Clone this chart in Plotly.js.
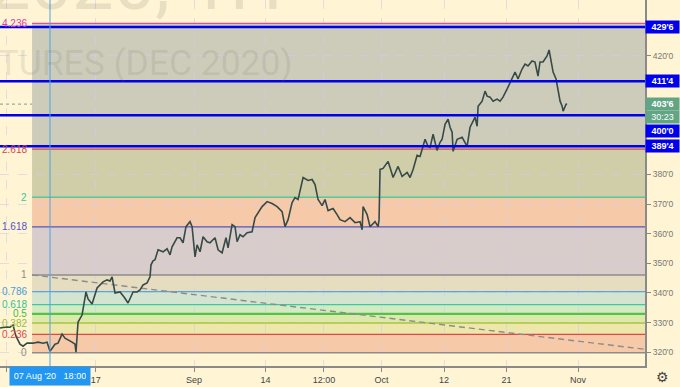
<!DOCTYPE html>
<html><head><meta charset="utf-8">
<script src="https://cdn.plot.ly/plotly-3.0.1.min.js"></script>
<style>html,body{margin:0;padding:0;background:#fff4d4;} #chart{width:680px;height:387px;}</style>
</head><body><div id="chart"></div>
<script>
// ---- data (trading-day index from Mon 03 Aug 2020, price in cents) ----
const priceDay = [-0.73,-0.17,0.39,0.73,1.06,1.51,1.85,2.30,2.97,3.53,
4.09,4.54,4.87,5.43,5.77,6.22,6.55,6.78,7.34,7.67,
7.78,8.01,8.46,8.90,9.13,9.58,10.14,10.81,11.26,11.59,
11.82,12.15,12.71,13.16,13.61,14.17,14.62,14.95,15.29,15.74,
16.07,16.18,16.41,16.63,16.97,17.53,17.98,18.31,18.54,19.10,
19.43,19.77,20.10,20.55,20.78,21.11,21.34,21.67,22.01,22.46,
22.79,23.35,23.69,24.14,24.58,24.81,25.26,25.59,25.82,26.15,
26.49,26.94,27.50,27.83,28.17,28.62,29.18,29.74,30.30,30.86,
31.19,31.53,31.98,32.31,32.65,32.87,33.21,33.77,34.22,34.55,
34.89,35.34,35.67,36.01,36.57,37.02,37.35,37.91,38.47,39.03,
39.59,39.82,39.93,40.38,40.71,41.27,41.61,41.72,41.83,42.17,
42.73,42.95,43.29,43.85,44.30,44.86,45.19,45.53,45.98,46.31,
46.65,46.87,47.21,47.43,47.77,48.21,48.55,48.78,49.11,49.45,
49.67,49.90,50.01,50.46,51.02,51.58,51.91,52.47,52.70,52.81,
53.26,53.59,53.82,54.15,54.49,54.93,55.27,55.60,56.05,56.39,
56.95,57.28,57.73,58.07,58.40,58.85,59.18,59.52,59.74,60.08,
60.53,60.76,61.09,61.21,61.54,61.77,61.99,62.22,62.33,62.66,
62.78];
const pricePx = [328.14,328.47,328.47,329.15,325.42,322.71,322.03,323.05,323.05,323.39,
323.05,323.39,320.34,322.71,323.05,326.10,324.75,324.41,323.39,322.71,
320.00,330.17,332.54,340.34,337.97,336.27,341.69,343.73,344.41,344.07,
345.42,340.00,340.34,338.64,336.61,340.34,340.34,341.02,342.71,343.39,
345.42,349.49,350.85,351.19,354.58,353.90,354.92,352.88,355.59,358.64,
358.64,356.95,362.37,364.07,362.37,352.20,356.27,353.90,358.98,357.29,
356.95,358.64,354.58,353.56,358.64,355.25,363.05,362.37,357.29,359.66,
358.98,360.34,360.68,365.43,367.12,369.15,370.85,370.17,369.15,367.46,
362.37,364.75,370.51,372.20,371.53,374.92,378.98,377.97,378.31,376.61,
371.53,369.49,371.53,367.80,368.48,366.44,364.75,364.07,365.43,363.73,
364.07,361.36,369.15,366.44,362.37,364.07,362.37,364.75,381.70,382.04,
384.41,382.37,378.98,382.71,379.32,380.68,378.98,381.70,386.44,386.10,
390.17,391.87,389.49,389.16,393.56,388.14,390.85,391.87,396.95,398.64,
395.94,394.24,387.80,391.87,392.55,389.49,395.94,399.33,396.28,403.05,
404.75,408.14,406.44,406.11,404.75,405.43,404.75,406.11,408.82,411.19,
414.58,412.21,415.60,417.29,416.62,418.31,417.97,413.23,417.97,417.97,
420.01,422.04,417.29,414.58,412.21,407.80,404.75,403.06,401.36,403.73,
403.75];

const fibRatios = [0, 0.236, 0.382, 0.5, 0.618, 0.786, 1, 1.618, 2, 2.618, 4.236];
const fibLabels = ["0","0.236","0.382","0.5","0.618","0.786","1","1.618","2","2.618","4.236"];
const fibBase = 319.83;
const fibOne = 346.08;
const fibStartDay = 2.86;

const hLevels = [429.75, 411.5, 400.0, 389.5];
const hLabels = ["429'6", "411'4", "400'0", "389'4"];
const lastPrice = 403.75;
const lastLabel = "403'6";
const timerLabel = "30:23";

const trendDay = [2.86, 71.5];
const trendPx = [346.08, 320.98];

const xTickVals = [0, 10, 21, 29, 35.55, 42, 49, 56, 64];
const xTickText = ["Aug", "17", "Sep", "14", "12:00", "Oct", "12", "21", "Nov"];
const yTickVals = [320, 330, 340, 350, 360, 370, 380, 420];
const yTickText = ["320'0", "330'0", "340'0", "350'0", "360'0", "370'0", "380'0", "420'0"];

const crossDay = 4.87;
const crossLabel = "07 Aug '20\u00a0\u00a0\u00a018:00";
const wmLine1 = "ZCZ2020, 1H";
const wmLine2 = "CORN FUTURES (DEC 2020)";

// ---- styles ----
const X_RANGE = [-0.73, 71.5];
const Y_RANGE = [315.34, 438.9];
const BG = '#fff4d4';
const fibLineColors = ['#8c8c8c','#e04848','#a8c63c','#52c24a','#3cc8a0','#5aa6d8','#8c8c8c','#5454bc','#56c89c','#d04848','#e0509a'];
const fibTextColors = ['#8c8c8c','#e04848','#9cbf2c','#44bb3c','#30c296','#4a9fd8','#8c8c8c','#5454c8','#3cc690','#d04848','#e040a0'];
const fibFillColors = ['#f6caa8','#ede7ab','#dde9aa','#d4ebc2','#d3e5d1','#e6dcc0','#d8cdca','#f6caa8','#cfcea9','#cdccba'];

const fibLevels = fibRatios.map(r => fibBase + r * (fibOne - fibBase));

const shapes = [];
const annotations = [];

// fib bands
for (let i = 0; i < fibLevels.length - 1; i++) {
  shapes.push({type:'rect', xref:'x', yref:'y', x0:fibStartDay, x1:X_RANGE[1], y0:fibLevels[i], y1:fibLevels[i+1],
    fillcolor:fibFillColors[i], line:{width:0}, layer:'below'});
}
// fib lines + labels
fibLevels.forEach((lv, i) => {
  shapes.push({type:'line', xref:'x', yref:'y', x0:fibStartDay, x1:X_RANGE[1], y0:lv, y1:lv,
    line:{color:fibLineColors[i], width:(fibRatios[i]===0.5?2.2:1.4)}, layer:'between'});
  annotations.push({xref:'x', yref:'y', x:fibStartDay, y:lv, xanchor:'right', yanchor:'middle', xshift:-3,
    text:fibLabels[i], showarrow:false, font:{family:'Liberation Sans, Arial, sans-serif', size:10, color:fibTextColors[i]}});
});
// last price dotted line
shapes.push({type:'line', xref:'paper', yref:'y', x0:0, x1:1, y0:lastPrice, y1:lastPrice,
  line:{color:'#6aa88a', width:1, dash:'dot'}, layer:'between'});
// blue horizontal lines
hLevels.forEach(lv => {
  shapes.push({type:'line', xref:'paper', yref:'y', x0:0, x1:1, y0:lv, y1:lv,
    line:{color:'#0000ee', width:2.5}, layer:'above'});
});
// crosshair
shapes.push({type:'line', xref:'x', yref:'paper', x0:crossDay, x1:crossDay, y0:0, y1:1,
  line:{color:'#4aa3ea', width:1}, layer:'above'});

// right labels
const rightFont = {family:'Liberation Sans, Arial, sans-serif', size:9, color:'#ffffff'};
const labelShift = [0, 0, -16, 0];
hLevels.forEach((lv, i) => {
  annotations.push({xref:'paper', yref:'y', x:1, y:lv, xanchor:'left', yanchor:'middle', yshift:labelShift[i],
    text:'<b>'+hLabels[i]+'</b>', showarrow:false, bgcolor:'#0000ee', borderpad:1, width:31, font:rightFont});
});
annotations.push({xref:'paper', yref:'y', x:1, y:lastPrice, xanchor:'left', yanchor:'middle',
  text:'<b>'+lastLabel+'</b>', showarrow:false, bgcolor:'#62a584', borderpad:1, width:31, font:rightFont});
annotations.push({xref:'paper', yref:'y', x:1, y:lastPrice, xanchor:'left', yanchor:'middle', yshift:-13,
  text:timerLabel, showarrow:false, bgcolor:'#62a584', borderpad:1, width:31, font:rightFont});
// date label at crosshair
annotations.push({xref:'x', yref:'paper', x:crossDay, y:0, xanchor:'center', yanchor:'top',
  text:crossLabel, showarrow:false, bgcolor:'#2196f3', borderpad:4, width:72,
  font:{family:'Liberation Sans, Arial, sans-serif', size:9, color:'#ffffff'}});
// gear
annotations.push({xref:'paper', yref:'paper', x:1, y:0, xanchor:'center', yanchor:'middle', xshift:17, yshift:-11,
  text:'\u2699', showarrow:false, font:{family:'DejaVu Sans', size:14, color:'#444'}});
// watermark
const wmColor = 'rgba(100,100,90,0.15)';
annotations.push({xref:'paper', yref:'paper', x:285/645, y:1+16/366, xanchor:'right', yanchor:'middle',
  text:wmLine1, showarrow:false, font:{family:'Roboto', size:74, color:wmColor}});
annotations.push({xref:'paper', yref:'paper', x:295/645, y:1-63/366, xanchor:'right', yanchor:'middle',
  text:wmLine2, showarrow:false, font:{family:'Roboto', size:35.4, color:wmColor}});

const traces = [
  {x:trendDay, y:trendPx, type:'scatter', mode:'lines', hoverinfo:'skip',
   line:{color:'#8c8c8c', width:1.4, dash:'6px,4px'}},
  {x:priceDay, y:pricePx, type:'scatter', mode:'lines', hoverinfo:'skip',
   line:{color:'#374a47', width:1.6}}
];

const gridColor = 'rgba(205,205,235,0.6)';
const layout = {
  width:680, height:387,
  margin:{l:0, r:35, t:0, b:21},
  paper_bgcolor:BG, plot_bgcolor:BG,
  showlegend:false,
  xaxis:{range:X_RANGE, tickvals:xTickVals, ticktext:xTickText, showgrid:true, gridcolor:gridColor, griddash:'dash', gridwidth:1,
    ticks:'outside', ticklen:4, tickcolor:'#888', showline:true, linecolor:'#8a8a8a', linewidth:2, zeroline:false,
    tickfont:{family:'Liberation Sans, Arial, sans-serif', size:9, color:'#444'}, fixedrange:true},
  yaxis:{range:Y_RANGE, side:'right', tickvals:yTickVals, ticktext:yTickText, showgrid:true, gridcolor:gridColor, griddash:'dash', gridwidth:1,
    ticks:'outside', ticklen:4, tickcolor:'#888', showline:true, linecolor:'#8a8a8a', linewidth:2, zeroline:false,
    tickfont:{family:'Liberation Sans, Arial, sans-serif', size:8.5, color:'#777'}, fixedrange:true},
  shapes:shapes,
  annotations:annotations
};
Plotly.newPlot('chart', traces, layout, {staticPlot:true, displayModeBar:false});
</script>
</body></html>
